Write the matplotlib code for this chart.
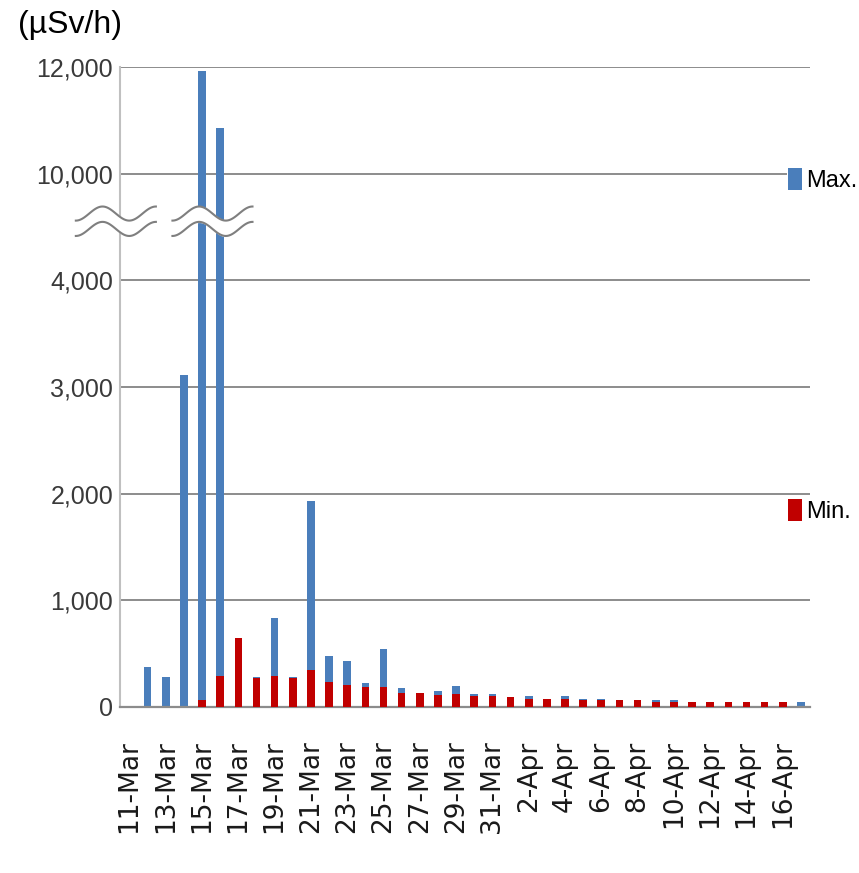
import numpy as np
import matplotlib.pyplot as plt

# daily readings, 11-Mar .. 17-Apr
dates = ["11-Mar", "12-Mar", "13-Mar", "14-Mar", "15-Mar", "16-Mar", "17-Mar",
         "18-Mar", "19-Mar", "20-Mar", "21-Mar", "22-Mar", "23-Mar", "24-Mar",
         "25-Mar", "26-Mar", "27-Mar", "28-Mar", "29-Mar", "30-Mar", "31-Mar",
         "1-Apr", "2-Apr", "3-Apr", "4-Apr", "5-Apr", "6-Apr", "7-Apr", "8-Apr",
         "9-Apr", "10-Apr", "11-Apr", "12-Apr", "13-Apr", "14-Apr", "15-Apr",
         "16-Apr", "17-Apr"]
max_vals = [0, 375, 281, 3110, 11930, 10850, 643, 281, 830, 281, 1935, 474,
            430, 222, 540, 181, 128, 153, 193, 119, 119, 97, 100, 78, 100, 78,
            78, 62, 62, 62, 62, 47, 47, 47, 47, 47, 47, 45]
min_vals = [0, 0, 0, 0, 62, 287, 643, 268, 287, 268, 343, 237,
            206, 187, 187, 131, 128, 112, 119, 103, 103, 97, 78, 78, 78, 62,
            62, 62, 62, 47, 47, 47, 47, 47, 47, 47, 47, 0]
yticks = [0, 1000, 2000, 3000, 4000, 10000, 12000]

BLUE = "#4a7ebb"
RED = "#c00000"
ARIAL = ["Liberation Sans", "DejaVu Sans"]

# broken axis: 4,000 -> 10,000 squeezed into one tick step
brk_v = [0, 4000, 10000, 14000]
brk_u = [0, 4, 5, 7]


def fwd(v):
    return np.interp(v, brk_v, brk_u)


def inv(u):
    return np.interp(u, brk_u, brk_v)


fig = plt.figure(figsize=(8.59, 8.73), dpi=100)
ax = fig.add_axes([120 / 859, 1 - 707 / 873, 690 / 859, 640 / 873])
ax.set_yscale("function", functions=(fwd, inv))

x = np.arange(len(dates))
b_max = ax.bar(x, max_vals, width=0.42, color=BLUE, zorder=2)
b_min = ax.bar(x, min_vals, width=0.42, color=RED, zorder=3)

ax.set_xlim(-0.52, len(dates) - 0.5)
ax.set_ylim(0, 12000)
ax.set_yticks(yticks)
ax.set_yticklabels([f"{v:,}" for v in yticks], family=ARIAL, fontsize=18,
                   color="#3a3a3a")
ax.set_xticks(x[::2])
ax.set_xticklabels(dates[::2], rotation=90, fontsize=19, color="#1a1a1a")
ax.tick_params(axis="x", length=0, pad=24)
ax.tick_params(axis="y", length=0, pad=5)

ax.grid(axis="y", color="#8c8c8c", linewidth=1.4)
ax.set_axisbelow(True)
for s in ["top", "right"]:
    ax.spines[s].set_visible(False)
ax.spines["left"].set_color("#c0c0c0")
ax.spines["left"].set_linewidth(1.5)
ax.spines["bottom"].set_color("#8c8c8c")
ax.spines["bottom"].set_linewidth(1.6)

# axis-break marks (double wavy lines)
for x0, x1 in [(-0.064, 0.052), (0.076, 0.192)]:
    t = np.linspace(0, 1, 100)
    xs = x0 + (x1 - x0) * t
    wave = -0.011 * np.cos(3 * np.pi * t)
    up = 0.771 + wave
    lo = 0.747 + wave
    ax.fill_between(xs, lo, up, transform=ax.transAxes, color="white",
                    clip_on=False, zorder=5)
    ax.plot(xs, up, transform=ax.transAxes, color="#7f7f7f", lw=1.5,
            clip_on=False, zorder=6)
    ax.plot(xs, lo, transform=ax.transAxes, color="#7f7f7f", lw=1.5,
            clip_on=False, zorder=6)

# legend entries sit separately on the right
leg_kw = dict(frameon=True, facecolor="white", edgecolor="none", framealpha=1,
              loc="center left", bbox_transform=fig.transFigure,
              borderpad=0.05, borderaxespad=0, handlelength=0.6,
              handleheight=1.1, handletextpad=0.15,
              prop={"family": ARIAL, "size": 17})
leg1 = ax.legend([b_max], ["Max."], bbox_to_anchor=(787 / 859, 1 - 180 / 873),
                 **leg_kw)
ax.add_artist(leg1)
ax.legend([b_min], ["Min."], bbox_to_anchor=(787 / 859, 1 - 511 / 873),
          **leg_kw)

fig.text(18 / 859, 1 - 25 / 873, "(µSv/h)", fontsize=23, va="center",
         family=ARIAL)

fig.savefig("out.png", dpi=100)
plt.close(fig)
